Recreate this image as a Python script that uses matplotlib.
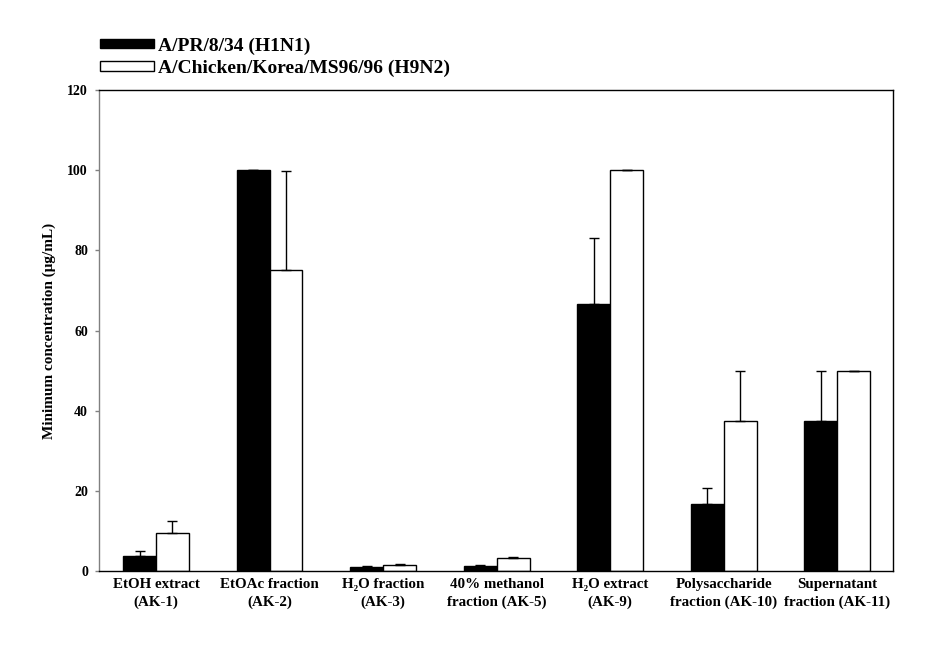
import numpy as np
import matplotlib.pyplot as plt

plt.rcParams['font.family'] = ['Liberation Serif', 'DejaVu Serif']
plt.rcParams['font.weight'] = 'bold'

# data
categories = ['EtOH extract\n(AK-1)', 'EtOAc fraction\n(AK-2)', 'H\u2082O fraction\n(AK-3)',
              '40% methanol\nfraction (AK-5)', 'H\u2082O extract\n(AK-9)',
              'Polysaccharide\nfraction (AK-10)', 'Supernatant\nfraction (AK-11)']
h1n1 = [3.8, 100.0, 1.0, 1.25, 66.6, 16.7, 37.5]
h1n1_err = [1.1, 0.0, 0.2, 0.2, 16.4, 4.0, 12.5]
h9n2 = [9.4, 75.0, 1.5, 3.2, 100.0, 37.5, 50.0]
h9n2_err = [3.0, 24.8, 0.2, 0.3, 0.0, 12.5, 0.0]
series_names = ['A/PR/8/34 (H1N1)', 'A/Chicken/Korea/MS96/96 (H9N2)']
yticks = [0, 20, 40, 60, 80, 100, 120]

fig = plt.figure(figsize=(9.4, 6.46), dpi=100)
ax = fig.add_axes([99 / 940, 75 / 646, 794 / 940, 481 / 646])

x = np.arange(len(categories))
w = 0.29
zeros = np.zeros(len(x))
ax.bar(x - w / 2, h1n1, w, color='black', edgecolor='black', linewidth=1, label=series_names[0])
ax.bar(x + w / 2, h9n2, w, color='white', edgecolor='black', linewidth=1, label=series_names[1])
ax.errorbar(x - w / 2, h1n1, yerr=[zeros, h1n1_err], fmt='none', ecolor='black',
            elinewidth=1, capsize=3.5, capthick=1)
ax.errorbar(x + w / 2, h9n2, yerr=[zeros, h9n2_err], fmt='none', ecolor='black',
            elinewidth=1, capsize=3.5, capthick=1)

ax.set_xlim(-0.502, 6.49)
ax.set_ylim(0, 120)
ax.set_yticks(yticks)
ax.set_xticks(x)
ax.set_xticklabels(categories, fontsize=10.8, fontweight='bold', linespacing=1.4)
ax.tick_params(axis='x', length=0, pad=5)
ax.tick_params(axis='y', length=3, width=1, color='#808080', pad=5, labelsize=10)
for lab in ax.get_yticklabels():
    lab.set_fontweight('bold')
ax.spines['left'].set_color('#808080')
for s in ['top', 'right', 'bottom']:
    ax.spines[s].set_color('black')
for s in ax.spines.values():
    s.set_linewidth(1)

ax.set_ylabel('Minimum concentration (\u03bcg/mL)', fontsize=11, fontweight='bold', labelpad=8)

fig.legend(loc='lower left', bbox_to_anchor=(100 / 940, 1 - 77 / 646), frameon=False,
           prop={'size': 14, 'weight': 'bold'}, handlelength=2.8, handleheight=0.35,
           handletextpad=0.2, labelspacing=0.25, borderpad=0, borderaxespad=0)

fig.savefig('out.png', dpi=100)
